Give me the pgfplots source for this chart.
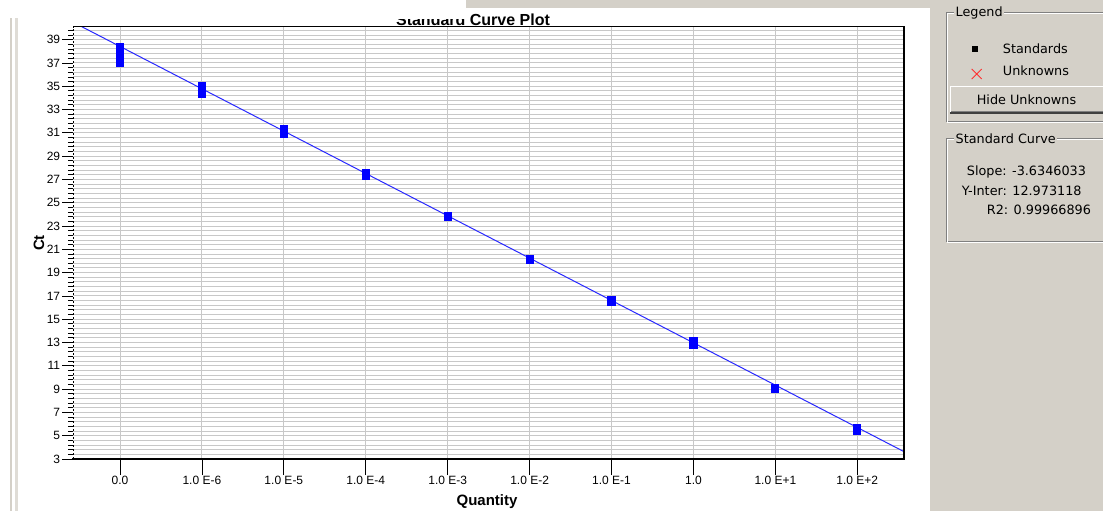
\documentclass[border=0pt]{standalone}
\usepackage{fontspec}
\setmainfont{Liberation Sans}
\newfontfamily\uifont{DejaVu Sans}
\usepackage{pgfplots}
\pgfplotsset{compat=1.18}
\definecolor{panelgray}{HTML}{D4D0C8}
\definecolor{gridgray}{HTML}{C8C8C8}
\definecolor{ptblue}{HTML}{0000FF}
\definecolor{fitblue}{HTML}{2828FF}
\definecolor{etchdark}{HTML}{808080}
\definecolor{xred}{HTML}{FF3030}

% standard replicates: quantity and threshold cycle
\pgfplotstableread{
q      ct
1e-7   38.36
1e-7   37.90
1e-7   37.45
1e-7   37.00
1e-6   35.02
1e-6   34.68
1e-6   34.33
1e-5   31.33
1e-5   30.90
1e-4   27.55
1e-4   27.30
1e-3   23.86
1e-3   23.77
1e-2   20.20
1e-2   20.12
1e-1   16.65
1e-1   16.48
1      13.13
1      12.95
1      12.79
10     9.12
10     9.05
100    5.62
100    5.45
}\standards

\begin{document}
\begin{tikzpicture}[x=1pt,y=1pt]
\useasboundingbox (0,0) rectangle (1103,511);
% window frame strips at the left
\fill[panelgray] (10,0) rectangle (12.3,493);
\fill[panelgray!75] (15,0) rectangle (18.3,493);

\begin{axis}[
  at={(73.3pt,52pt)}, anchor=south west,
  scale only axis, width=830.7pt, height=432.3pt,
  xmode=log, log basis x=10,
  xmin=2.6915e-8, xmax=371.54,
  ymin=3, ymax=40.11,
  axis line style={draw=none},
  tick pos=left, tick align=outside,
  major tick length=11pt, minor tick length=5.5pt,
  tick style={black, line width=0.8pt},
  xtick=\empty,
  extra x ticks={1e-7,1e-6,1e-5,1e-4,1e-3,1e-2,1e-1,1,10,100},
  extra x tick labels={0.0,1.0 E-6,1.0 E-5,1.0 E-4,1.0 E-3,1.0 E-2,1.0 E-1,1.0,1.0 E+1,1.0 E+2},
  extra x tick style={major tick length=16pt, grid=major,
    tick style={black, line width=0.8pt}},
  minor xtick={3e-8,4e-8,5e-8,6e-8,7e-8,8e-8,9e-8,
    2e-7,3e-7,4e-7,5e-7,6e-7,7e-7,8e-7,9e-7,
    2e-6,3e-6,4e-6,5e-6,6e-6,7e-6,8e-6,9e-6,
    2e-5,3e-5,4e-5,5e-5,6e-5,7e-5,8e-5,9e-5,
    2e-4,3e-4,4e-4,5e-4,6e-4,7e-4,8e-4,9e-4,
    2e-3,3e-3,4e-3,5e-3,6e-3,7e-3,8e-3,9e-3,
    2e-2,3e-2,4e-2,5e-2,6e-2,7e-2,8e-2,9e-2,
    0.2,0.3,0.4,0.5,0.6,0.7,0.8,0.9,
    2,3,4,5,6,7,8,9,
    20,30,40,50,60,70,80,90,
    200,300},
  ytick={3,5,...,39},
  minor ytick={3.4,3.8,...,40},
  grid=both,
  major grid style={gridgray, line width=0.9pt},
  minor grid style={gridgray, line width=0.9pt},
  /pgf/number format/assume math mode=true,
  tick label style={font=\fontsize{12}{14}\selectfont},
  xticklabel style={inner sep=1pt},
  yticklabel style={inner sep=2pt},
  clip mode=individual,
]
\addplot[fitblue, line width=1pt] coordinates {(2.6915e-8,40.487) (371.54,3.632)};
\addplot[only marks, mark=square*, mark size=3.6pt,
  mark options={fill=ptblue, draw=ptblue, line width=0pt}] table[x=q, y=ct] {\standards};
\end{axis}

% plot frame
\draw[black, line width=1.2pt] (73.3,484.3) -- (904,484.3) -- (904,52);
\draw[black, line width=2pt] (72.3,52) -- (905,52);
\draw[black, line width=1pt, dash pattern=on 2pt off 2pt] (73.3,52) -- (73.3,484.3);

% titles
\node[font=\fontsize{16}{18}\selectfont\bfseries, anchor=base, inner sep=0pt] at (473,485) {Standard Curve Plot};
\node[font=\fontsize{15}{18}\selectfont\bfseries, inner sep=0pt] at (487,9) {Quantity};
\node[font=\fontsize{15}{18}\selectfont\bfseries, rotate=90, inner sep=0pt] at (39,268) {Ct};

% overlapping window edges
\fill[white] (390,491.5) rectangle (466,511);
\fill[panelgray] (466,502.6) rectangle (930,511);

% side panel
\fill[panelgray] (930,0) rectangle (1103,511);
\begin{scope}[font=\uifont\fontsize{12.8}{15}\selectfont]
  % Legend group
  \draw[etchdark, line width=1pt] (946,498.3) rectangle (1112,389.3);
  \draw[white, line width=1pt] (947,497.3) -- (1112,497.3);
  \draw[white, line width=1pt] (947,497.3) -- (947,388.3) -- (1112,388.3);
  \node[anchor=west, fill=panelgray, inner sep=1.5pt] at (954,498.3) {Legend};
  \fill[black] (972,459.3) rectangle (978,465.3);
  \node[anchor=west, inner sep=0pt] at (1002.7,462.3) {Standards};
  \draw[xred, line width=0.9pt] (971.7,432) -- (981.7,442) (971.7,442) -- (981.7,432);
  \node[anchor=west, inner sep=0pt] at (1002.7,440.3) {Unknowns};
  % button
  \fill[panelgray] (950,398) rectangle (1112,425);
  \draw[white, line width=1pt] (950.5,398) -- (950.5,424.5) -- (1112,424.5);
  \draw[etchdark, line width=1pt] (951,399.5) -- (1112,399.5);
  \draw[black!75, line width=1.2pt] (950,398) -- (1112,398);
  \node[inner sep=0pt] at (1026.5,411.7) {Hide Unknowns};
  % Standard Curve group
  \draw[etchdark, line width=1pt] (946,372.7) rectangle (1112,269.3);
  \draw[white, line width=1pt] (947,371.7) -- (1112,371.7);
  \draw[white, line width=1pt] (947,371.7) -- (947,268.3) -- (1112,268.3);
  \node[anchor=west, fill=panelgray, inner sep=1.5pt] at (954,372.7) {Standard Curve};
  \node[anchor=west, inner sep=0pt] at (966.7,338.7) {Slope: -3.6346033};
  \node[anchor=west, inner sep=0pt] at (961.7,320) {Y-Inter: 12.973118};
  \node[anchor=west, inner sep=0pt] at (986.7,301) {R2: 0.99966896};
\end{scope}
\end{tikzpicture}
\end{document}
